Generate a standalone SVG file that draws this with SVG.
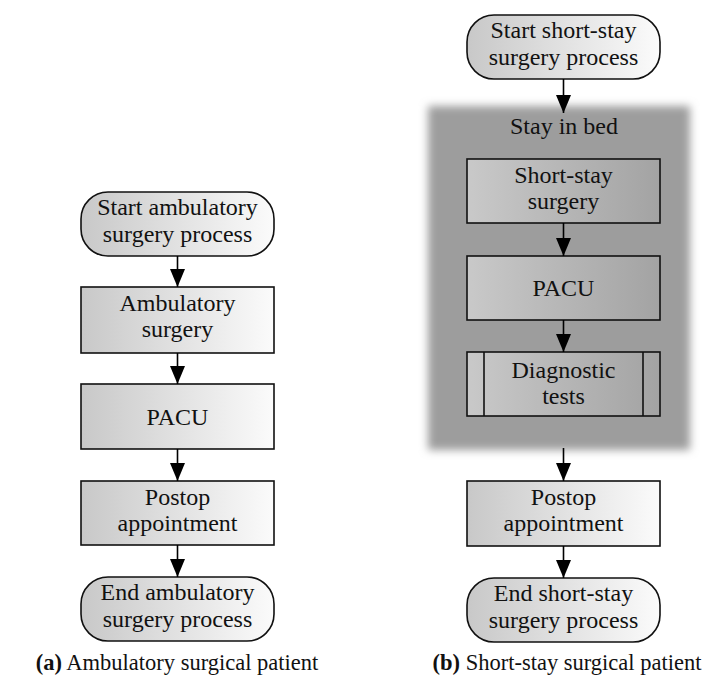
<svg xmlns="http://www.w3.org/2000/svg" width="723" height="678" viewBox="0 0 723 678">
  <defs>
    <linearGradient id="gLight" x1="0" y1="0" x2="1" y2="0">
      <stop offset="0" stop-color="#c8c8c8"/>
      <stop offset="1" stop-color="#fbfbfb"/>
    </linearGradient>
    <linearGradient id="gDark" x1="0" y1="0" x2="1" y2="0">
      <stop offset="0" stop-color="#c9c9c9"/>
      <stop offset="1" stop-color="#a3a3a3"/>
    </linearGradient>
    <filter id="soft" x="-0.2" y="-0.2" width="1.4" height="1.4">
      <feGaussianBlur stdDeviation="4.5"/>
    </filter>
    <marker id="arrow" markerUnits="userSpaceOnUse" markerWidth="19" markerHeight="16" refX="18" refY="7.5" orient="auto">
      <path d="M0,0 L18,7.5 L0,15 Z" fill="#000"/>
    </marker>
  </defs>
  <style>
    text { font-family: "Liberation Serif", "Times New Roman", serif; font-size: 24px; fill: #111; text-anchor: middle; }
    .cap { font-size: 22.5px; }
    .box { stroke: #111; stroke-width: 1.6; }
    .light { fill: url(#gLight); }
    .dark { fill: url(#gDark); }
    .edge { stroke: #000; stroke-width: 1.6; fill: none; marker-end: url(#arrow); }
    .bold { font-weight: bold; }
  </style>

  <!-- Container: stay in bed (soft-edged grey field) -->
  <g id="stay-in-bed">
    <rect x="428" y="106" width="262" height="344" fill="#9d9d9d" filter="url(#soft)"/>
    <text x="564" y="134">Stay in bed</text>
  </g>

  <!-- Left flow: ambulatory surgery -->
  <g id="a-start">
    <rect class="box light" x="81" y="192" width="193" height="64" rx="27" ry="27"/>
    <text x="177.5" y="215">Start ambulatory</text>
    <text x="177.5" y="242">surgery process</text>
  </g>
  <g id="a-surgery">
    <rect class="box light" x="81" y="287" width="193" height="66"/>
    <text x="177.5" y="311">Ambulatory</text>
    <text x="177.5" y="337">surgery</text>
  </g>
  <g id="a-pacu">
    <rect class="box light" x="81" y="384" width="193" height="65"/>
    <text x="177.5" y="425">PACU</text>
  </g>
  <g id="a-postop">
    <rect class="box light" x="81" y="481" width="193" height="64"/>
    <text x="177.5" y="505">Postop</text>
    <text x="177.5" y="531">appointment</text>
  </g>
  <g id="a-end">
    <rect class="box light" x="81" y="577" width="193" height="64" rx="27" ry="27"/>
    <text x="177.5" y="600">End ambulatory</text>
    <text x="177.5" y="627">surgery process</text>
  </g>

  <!-- Right flow: short-stay surgery -->
  <g id="b-start">
    <rect class="box light" x="467" y="15" width="193" height="64" rx="27" ry="27"/>
    <text x="563.5" y="38">Start short-stay</text>
    <text x="563.5" y="65">surgery process</text>
  </g>
  <g id="b-surgery">
    <rect class="box dark" x="467" y="159" width="193" height="64"/>
    <text x="563.5" y="183">Short-stay</text>
    <text x="563.5" y="209">surgery</text>
  </g>
  <g id="b-pacu">
    <rect class="box dark" x="467" y="256" width="193" height="64"/>
    <text x="563.5" y="296">PACU</text>
  </g>
  <g id="b-diagnostic">
    <rect class="box dark" x="467" y="352" width="193" height="64"/>
    <line class="box" x1="484" y1="352" x2="484" y2="416"/>
    <line class="box" x1="643" y1="352" x2="643" y2="416"/>
    <text x="563.5" y="378">Diagnostic</text>
    <text x="563.5" y="404">tests</text>
  </g>
  <g id="b-postop">
    <rect class="box light" x="467" y="481" width="193" height="65"/>
    <text x="563.5" y="505">Postop</text>
    <text x="563.5" y="531">appointment</text>
  </g>
  <g id="b-end">
    <rect class="box light" x="467" y="578" width="193" height="64" rx="27" ry="27"/>
    <text x="563.5" y="601">End short-stay</text>
    <text x="563.5" y="628">surgery process</text>
  </g>

  <!-- Connectors -->
  <g id="connectors">
    <line class="edge" x1="177.5" y1="256" x2="177.5" y2="287"/>
    <line class="edge" x1="177.5" y1="353" x2="177.5" y2="384"/>
    <line class="edge" x1="177.5" y1="449" x2="177.5" y2="481"/>
    <line class="edge" x1="177.5" y1="545" x2="177.5" y2="577"/>
    <line class="edge" x1="563.5" y1="79" x2="563.5" y2="113"/>
    <line class="edge" x1="563.5" y1="223" x2="563.5" y2="256"/>
    <line class="edge" x1="563.5" y1="320" x2="563.5" y2="352"/>
    <line class="edge" x1="563.5" y1="448" x2="563.5" y2="481"/>
    <line class="edge" x1="563.5" y1="546" x2="563.5" y2="578"/>
  </g>

  <!-- Captions -->
  <g id="captions">
    <text class="cap" x="177" y="670"><tspan class="bold">(a)</tspan> Ambulatory surgical patient</text>
    <text class="cap" x="567" y="670"><tspan class="bold">(b)</tspan> Short-stay surgical patient</text>
  </g>
</svg>
